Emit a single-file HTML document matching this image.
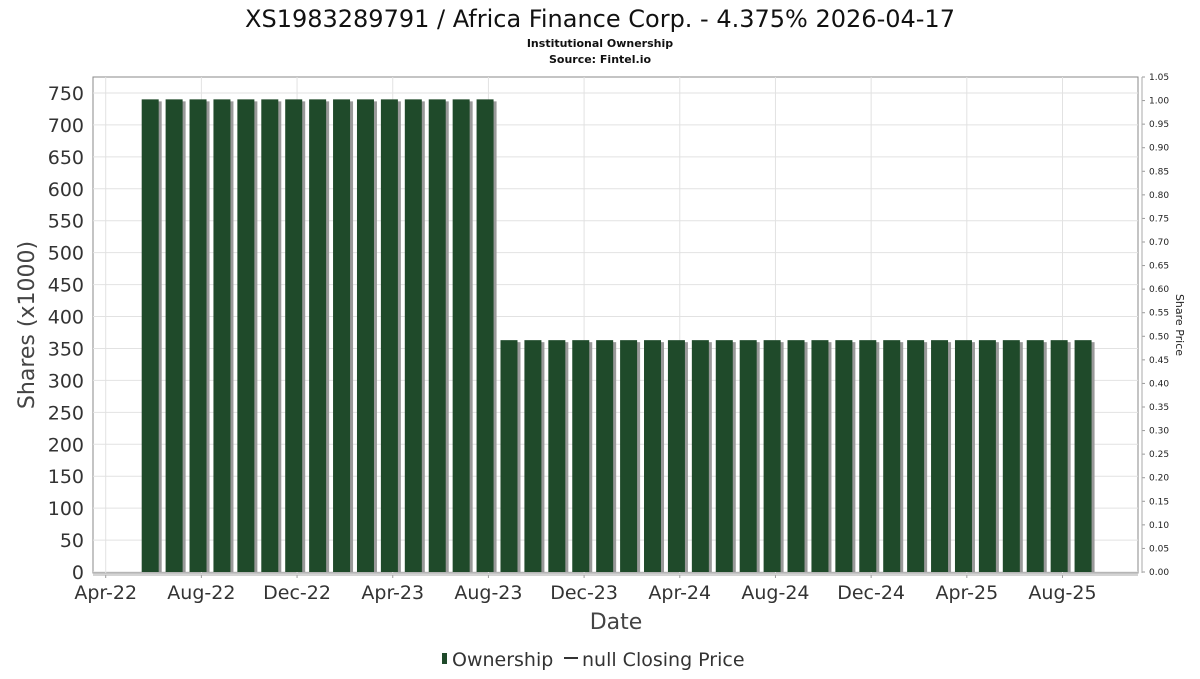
<!DOCTYPE html>
<html><head><meta charset="utf-8"><style>
body{margin:0;background:#fff;font-family:"DejaVu Sans","Liberation Sans",sans-serif}
</style></head><body>
<svg id="c" width="1200" height="675" xmlns="http://www.w3.org/2000/svg" style="font-family:'DejaVu Sans','Liberation Sans',sans-serif">
<text x="600" y="27" font-size="24" text-anchor="middle" fill="#111">XS1983289791 / Africa Finance Corp. - 4.375% 2026-04-17</text>
<text x="600" y="47" font-size="11" font-weight="bold" text-anchor="middle" fill="#111">Institutional Ownership</text>
<text x="600" y="63" font-size="11" font-weight="bold" text-anchor="middle" fill="#111">Source: Fintel.io</text>
<rect x="93" y="77" width="1045" height="496" fill="#fff" stroke="#888"/>
<g id="grid"></g><g id="bars"></g><g id="axes"></g>
<text x="34" y="325" font-size="22" fill="#444" text-anchor="middle" transform="rotate(-90 34 325)">Shares (x1000)</text>
<text x="1176" y="325" font-size="11" fill="#222" text-anchor="middle" transform="rotate(90 1176 325)">Share Price</text>
<text x="616" y="629" font-size="22" fill="#444" text-anchor="middle">Date</text>
<g>
<rect x="442" y="653" width="5" height="11" fill="#1f4a2a"/>
<text x="452" y="666" font-size="19" fill="#333">Ownership</text>
<line x1="564" y1="658" x2="578" y2="658" stroke="#333" stroke-width="2"/>
<text x="582" y="666" font-size="19" fill="#333">null Closing Price</text>
</g>
</svg>
<script>
const yTicks=[0,50,100,150,200,250,300,350,400,450,500,550,600,650,700,750];
const rTicks=["0.00","0.05","0.10","0.15","0.20","0.25","0.30","0.35","0.40","0.45","0.50","0.55","0.60","0.65","0.70","0.75","0.80","0.85","0.90","0.95","1.00","1.05"];
const xTickLabels=["Apr-22","Aug-22","Dec-22","Apr-23","Aug-23","Dec-23","Apr-24","Aug-24","Dec-24","Apr-25","Aug-25"];
const xTickMonths=[0,4,8,12,16,20,24,28,32,36,40];
const barMonths=[];for(let i=0;i<40;i++)barMonths.push(i+1.86);
const ownership=[740,740,740,740,740,740,740,740,740,740,740,740,740,740,740,363,363,363,363,363,363,363,363,363,363,363,363,363,363,363,363,363,363,363,363,363,363,363,363,363];
const NS="http://www.w3.org/2000/svg";
const y=v=>572-v*0.6387, yr=v=>572-v*(495/1.05), x=m=>105.7+m*23.92;
function mk(t,a,p){const e=document.createElementNS(NS,t);for(const k in a)e.setAttribute(k,a[k]);document.getElementById(p).appendChild(e);return e;}
yTicks.forEach(v=>{
 const g=mk('line',{x1:93,x2:1138,y1:y(v),y2:y(v),stroke:'#e2e2e2'},'grid');
 
 
 const t=mk('text',{x:84,y:y(v)+7,'font-size':19,'text-anchor':'end',fill:'#333'},'axes');t.textContent=v;
 
 
});
rTicks.forEach(s=>{
 const t=mk('text',{x:1149,y:yr(+s)+3,'font-size':9,fill:'#222'},'axes');t.textContent=s;
 
 
 const l=mk('line',{x1:1142,x2:1145,y1:yr(+s),y2:yr(+s),stroke:'#999'},'axes');
 
 
});
const ra=mk('line',{x1:1142,x2:1142,y1:77,y2:573,stroke:'#aaa'},'axes');


xTickMonths.forEach((m,i)=>{
 const g=mk('line',{x1:x(m),x2:x(m),y1:77,y2:573,stroke:'#e2e2e2'},'grid');
 
 
 const tk=mk('line',{x1:x(m),x2:x(m),y1:575,y2:578,stroke:'#999'},'axes');
 
 
 const t=mk('text',{x:x(m),y:599,'font-size':19,'text-anchor':'middle',fill:'#333'},'axes');t.textContent=xTickLabels[i];
 
 
});
const xa=mk('line',{x1:93,x2:1138,y1:575,y2:575,stroke:'#aaa'},'axes');


ownership.forEach((v,i)=>{
 const cx=x(barMonths[i]);
 const s=mk('rect',{x:cx-8.5+3,y:y(v)+2,width:17,height:572-y(v)-2,fill:'#999'},'bars');
 
 
 const b=mk('rect',{x:cx-8.5,y:y(v),width:17,height:572-y(v),fill:'#1f4a2a'},'bars');
 
 
});
</script>
</body></html>
